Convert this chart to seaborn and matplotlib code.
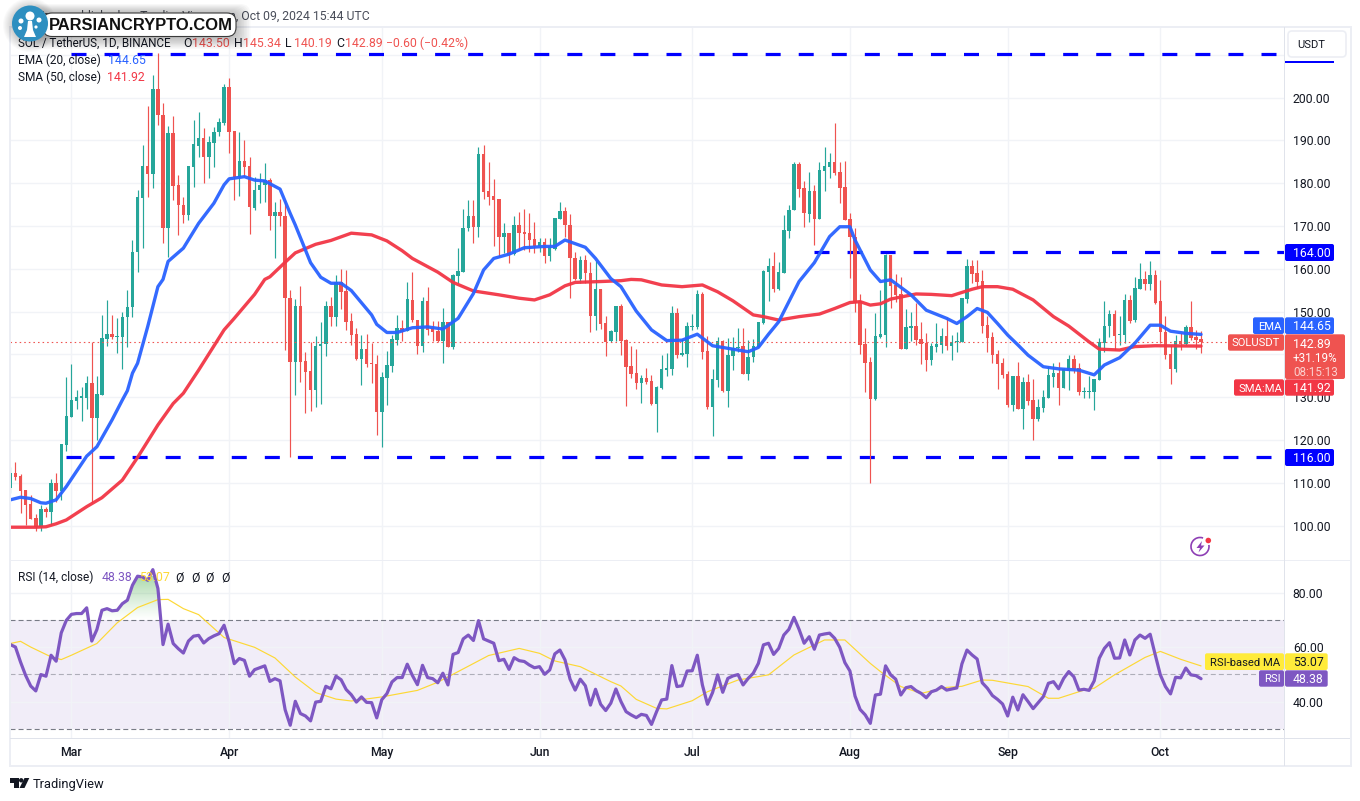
import numpy as np
import pandas as pd
import seaborn as sns
import matplotlib
matplotlib.use("Agg")
import matplotlib.pyplot as plt
import matplotlib.dates as mdates
from matplotlib.patches import FancyBboxPatch, Rectangle, Circle, Polygon, Arc

sns.set_theme(style="white")
plt.rcParams['font.family'] = ['Roboto', 'DejaVu Sans']
plt.rcParams['lines.scale_dashes'] = False
plt.rcParams['ytick.alignment'] = 'center_baseline'

first_day = "2024-02-18"

opens = [108.7,112.2,111.6,108.3,105.0,101.7,99.7,103.9,103.2,109.9,
108.1,118.9,125.4,129.2,129.9,129.9,133.2,125.2,130.5,143.6,
144.7,144.1,144.1,148.6,151.0,163.8,176.6,184.0,182.1,202.0,
195.9,169.6,191.6,179.5,175.0,172.5,183.8,188.7,190.5,186.2,
189.4,192.0,194.1,202.4,192.2,181.5,185.2,184.0,174.1,178.4,
179.5,180.7,172.2,173.3,172.2,153.1,138.3,151.3,138.4,136.0,
131.7,141.9,142.3,151.3,148.6,156.8,154.8,147.8,144.8,138.9,
141.2,138.0,137.7,126.5,134.5,137.3,143.3,146.1,145.5,152.7,
148.0,141.9,152.4,146.1,145.4,143.1,147.6,141.8,158.4,159.3,
169.4,172.3,169.8,186.8,178.2,177.0,176.3,167.5,168.3,163.4,
170.2,168.5,168.3,166.9,165.4,166.2,163.0,164.6,171.7,173.5,
170.2,162.4,157.5,162.0,158.9,149.0,155.3,147.2,143.0,145.3,
151.3,143.3,137.3,135.6,133.2,134.5,133.8,128.4,132.2,136.3,
136.6,149.6,139.8,140.1,146.3,146.3,154.1,140.8,127.8,134.0,
143.1,131.4,139.7,141.4,141.9,135.4,139.3,141.8,147.2,159.3,
160.6,155.3,159.1,168.9,173.6,184.5,178.9,172.8,178.2,171.6,
182.8,183.8,184.9,182.6,179.0,171.6,167.4,152.5,142.4,138.2,
129.6,144.1,144.5,163.2,156.2,154.0,141.2,146.1,146.6,143.5,
142.6,138.7,141.8,142.2,144.3,142.0,142.8,142.8,152.9,160.6,
159.0,157.1,146.8,144.0,140.0,137.9,135.4,128.1,134.9,127.2,
133.5,129.3,124.9,127.5,129.9,134.7,135.6,132.1,136.1,138.9,
136.9,131.2,131.2,131.2,134.0,142.7,146.5,149.4,144.5,144.4,
152.7,147.9,155.3,157.6,156.4,158.5,152.4,145.2,140.0,136.6,
143.1,142.4,146.4,144.0,143.50]
closes = [112.2,111.4,108.1,104.8,101.6,99.6,103.8,103.2,109.9,108.1,
119.0,125.6,129.3,130.0,130.0,133.2,125.2,130.7,143.7,144.7,
144.0,144.3,148.7,151.1,163.8,176.7,184.0,182.1,202.0,195.8,
169.6,191.6,179.4,175.0,172.5,184.0,189.1,190.5,186.2,189.5,
191.9,194.3,202.4,192.0,181.5,185.2,183.8,174.3,178.5,179.5,
180.7,172.3,173.3,172.2,153.1,138.3,151.3,138.3,135.9,131.7,
141.9,142.4,151.3,148.6,156.8,154.6,147.6,144.5,138.8,141.2,
137.7,137.7,126.5,134.8,137.5,143.6,146.1,145.2,152.9,147.9,
141.9,152.4,145.7,145.3,143.1,147.6,141.8,158.6,159.5,169.5,
172.3,169.8,186.8,178.0,176.8,176.0,167.5,168.3,163.2,170.2,
168.4,168.1,166.7,165.4,166.2,163.0,165.3,171.8,173.5,170.1,
162.4,157.5,162.0,158.9,149.0,155.3,147.1,142.8,145.5,151.3,
143.2,137.1,135.4,133.2,134.4,133.5,128.3,132.4,136.5,136.7,
149.6,139.8,140.2,146.6,146.6,154.1,140.6,127.6,134.2,143.0,
131.4,139.8,141.5,141.8,135.4,139.4,141.9,147.5,159.5,160.6,
155.3,159.2,169.0,173.7,184.5,178.6,172.9,178.2,171.6,183.1,
184.0,184.9,182.4,178.9,171.4,167.3,152.1,142.2,138.0,129.6,
144.3,144.7,163.2,156.0,153.8,141.2,146.3,146.6,143.3,142.5,
138.7,141.9,142.4,144.3,142.0,142.9,143.1,153.2,160.6,158.8,
156.9,146.6,143.9,139.8,137.7,135.2,128.1,134.9,127.2,133.5,
129.1,124.9,127.7,130.0,135.2,135.6,132.1,136.6,138.9,136.5,
131.2,131.4,131.4,134.2,142.8,146.6,149.4,144.3,144.7,152.7,
147.7,155.5,157.6,156.4,158.5,152.1,145.2,139.8,136.6,143.1,
142.4,146.4,143.7,143.3,142.89]
highs = [113.7,114.8,112.0,108.3,107.1,102.8,104.8,104.3,110.8,112.2,
119.0,134.6,137.7,131.7,132.3,134.9,142.8,134.9,149.2,152.7,
149.2,148.4,150.0,155.0,166.7,178.5,188.9,198.0,205.3,210.3,
198.6,193.3,195.7,181.9,176.8,184.0,194.7,196.6,192.8,191.0,
193.2,195.1,203.1,204.5,192.2,191.9,190.1,186.2,181.5,182.3,
184.6,181.1,175.7,176.2,176.0,155.0,152.9,155.9,140.5,142.8,
144.3,147.6,152.4,153.3,158.5,159.9,159.7,149.6,146.1,144.5,
144.8,142.6,139.8,135.9,140.8,144.5,149.2,148.0,156.8,159.2,
148.0,153.3,155.8,147.8,147.8,150.9,147.6,158.8,164.9,174.0,
176.0,176.0,188.4,188.9,184.9,180.9,176.3,170.7,168.4,172.3,
173.2,174.0,172.9,170.8,167.1,167.1,167.2,171.8,175.6,174.3,
172.8,164.0,163.0,163.2,161.6,161.9,155.3,149.0,145.7,151.3,
151.7,143.5,141.9,141.3,135.2,136.9,135.2,132.6,139.8,140.2,
151.4,150.9,143.5,147.6,149.4,155.0,154.6,144.3,136.6,144.1,
143.3,143.7,144.1,146.1,146.1,143.3,143.6,147.5,159.7,162.4,
163.8,161.5,172.6,175.0,185.0,185.0,180.5,182.6,179.6,184.9,
188.4,187.0,194.0,184.9,185.2,172.9,169.4,154.0,146.1,139.3,
149.6,155.0,163.4,163.2,158.8,158.1,150.7,150.0,152.1,147.5,
144.9,142.6,147.2,146.1,148.6,144.5,145.3,153.2,162.3,162.0,
162.0,159.7,148.9,145.3,141.0,139.1,136.2,135.0,138.2,134.8,
135.5,134.2,129.5,131.7,137.3,137.9,138.2,136.7,139.8,139.8,
137.9,132.3,134.9,134.2,143.9,152.5,150.3,150.3,148.9,154.1,
153.9,158.0,161.3,159.5,161.8,159.7,157.4,148.9,142.2,144.5,
144.9,146.8,152.4,145.7,145.34]
lows = [107.5,110.6,103.0,100.1,101.6,98.6,98.6,102.1,100.1,105.4,
106.0,117.3,125.4,127.2,124.3,127.2,105.2,120.0,130.5,142.0,
143.6,140.4,136.6,141.6,148.8,159.3,164.8,176.8,178.8,193.6,
166.1,162.7,176.0,167.8,170.6,171.4,179.2,186.2,180.1,181.1,
183.8,190.9,193.6,187.0,176.0,177.0,181.5,168.0,173.6,175.3,
175.7,169.0,162.4,170.0,141.0,116.1,130.5,133.6,126.4,126.8,
127.8,128.4,139.6,146.7,146.7,150.7,145.7,142.2,138.7,132.8,
137.1,133.4,121.2,118.4,128.2,135.9,142.2,143.1,145.4,147.6,
140.1,140.6,144.5,143.1,142.8,137.9,141.8,141.2,156.6,159.3,
168.7,166.1,167.5,176.4,174.9,165.4,162.8,163.6,161.3,163.2,
164.4,164.4,163.8,163.6,164.0,161.4,161.9,164.4,171.5,167.5,
153.1,157.4,156.6,156.6,145.3,145.7,145.9,139.7,142.8,143.0,
139.8,128.0,134.5,132.0,128.7,133.0,128.2,121.9,132.0,134.9,
135.2,139.1,139.6,137.1,145.7,145.8,138.9,127.3,121.0,132.4,
131.3,127.8,136.3,140.6,135.4,134.0,138.1,141.6,147.1,152.5,
154.6,155.0,159.1,167.2,173.6,176.8,169.8,170.9,165.5,171.6,
178.2,181.1,181.9,175.4,171.4,157.9,150.0,140.1,131.1,110.0,
129.3,143.9,141.6,150.9,152.3,141.2,141.2,143.0,142.2,137.7,
136.2,137.5,140.6,140.4,141.0,138.7,140.6,142.8,152.1,156.6,
155.4,144.9,140.6,138.0,132.0,134.4,127.8,126.8,127.2,122.5,
128.2,120.0,124.3,126.6,129.7,132.3,128.2,132.1,131.7,135.7,
130.5,129.9,129.9,127.0,134.0,140.6,144.1,141.0,142.2,142.7,
147.2,147.6,155.2,155.0,155.0,151.8,142.6,138.8,133.1,135.9,
141.0,142.2,143.3,141.2,140.19]

# EMA / SMA / RSI-MA read at days counted from 1 March
ema_days = [-12,-10,-8,-6,-5,-3,-1,3,5,8,10,11,12,13,15,17,18,19,22,25,28,30,31,34,36,38,41,43,44,47,49,51,53,55,59,60,62,64,67,70,73,76,79,81,83,86,89,93,95,97,101,103,106,108,111,114,117,120,123,126,133,135,137,139,143,146,149,151,153,154,157,159,161,165,168,172,174,176,178,180,182,184,186,188,191,194,198,201,203,206,209,212,214,216,219,222]
ema_vals = [106.0,106.6,106.3,105.3,105.2,106.0,109.1,116.2,118.4,124.7,129.3,131.5,135.6,137.9,146.5,155.8,157.5,161.7,164.8,170.6,175.3,179.6,181.0,181.5,180.7,180.5,178.6,172.9,170.2,161.4,158.0,156.6,156.6,154.9,149.2,147.0,145.1,145.1,146.2,146.4,145.9,148.4,154.2,159.7,162.4,163.4,164.9,165.2,165.2,166.7,165.0,162.4,157.7,155.8,150.1,145.7,143.2,143.3,144.7,142.0,140.6,141.6,144.7,147.6,157.0,161.4,167.5,169.8,169.8,166.7,159.7,157.0,157.4,153.9,150.3,148.4,147.2,148.8,150.7,149.8,147.2,144.5,142.2,139.8,137.1,136.6,136.3,135.2,137.5,139.2,142.6,146.8,146.8,145.4,144.9,144.65]
sma_days = [-12,-7,-5,-3,-1,3,6,10,13,17,20,22,25,30,32,36,38,39,42,44,48,51,55,59,62,65,67,72,75,79,84,88,91,94,97,99,104,108,110,112,116,120,124,127,130,134,136,139,143,147,150,153,155,157,159,161,166,169,173,177,179,182,185,189,193,196,200,202,206,209,213,222]
sma_vals = [99.6,99.6,99.7,100.4,101.3,104.4,106.5,110.6,115.9,123.5,128.5,130.9,136.3,145.7,148.4,154.0,157.5,158.1,161.5,163.7,165.7,166.6,168.3,167.9,166.5,164.2,162.4,159.2,156.8,154.8,153.9,153.1,152.7,153.9,156.0,156.8,157.0,157.2,157.5,157.4,156.2,155.8,156.2,154.6,152.5,149.2,148.8,148.0,148.8,149.4,150.7,152.1,152.3,151.5,151.8,152.9,154.1,154.0,153.7,155.2,155.8,155.8,155.2,152.7,148.8,146.6,142.9,141.2,141.0,141.8,142.0,141.92]
rsi_vals = [60.9,60.0,54.5,49.6,45.7,43.9,49.9,49.3,57.0,54.8,
65.2,69.8,72.0,72.3,72.3,74.4,62.2,66.4,73.5,74.1,
73.3,73.5,75.9,77.2,82.7,86.0,85.7,84.5,88.4,81.5,
60.9,68.4,61.3,59.4,57.8,62.2,64.0,64.3,61.5,63.1,
64.1,64.9,68.0,61.9,53.9,55.8,55.1,49.3,51.7,52.4,
53.1,47.4,48.4,47.6,37.0,31.3,40.1,35.6,34.7,32.9,
39.8,40.1,45.6,44.7,49.3,48.0,44.4,42.5,39.8,41.7,
39.7,39.6,34.0,40.7,42.9,47.2,48.8,48.8,53.7,49.6,
46.2,53.3,48.8,48.4,46.9,50.4,46.1,57.3,58.0,63.0,
64.4,62.4,69.7,63.0,62.2,61.4,55.0,55.5,51.8,56.1,
55.0,54.7,53.4,52.4,52.8,50.0,51.6,57.5,58.9,55.3,
48.2,44.2,48.2,45.8,38.7,44.5,39.0,36.7,39.4,44.6,
40.0,36.3,35.1,34.1,35.3,34.9,31.6,36.3,40.6,40.9,
53.2,45.5,45.8,51.2,51.3,57.0,46.1,39.0,43.3,49.8,
43.4,48.5,49.4,49.9,46.1,48.5,50.4,54.0,60.8,61.4,
57.3,59.5,64.4,66.5,70.9,66.5,61.4,63.8,59.2,64.4,
64.8,65.1,63.2,59.9,54.3,51.2,42.0,37.1,35.1,32.0,
42.4,42.7,53.1,49.8,48.2,42.4,45.1,45.5,44.0,43.0,
41.4,43.6,44.2,45.5,44.2,44.6,45.0,53.8,58.9,57.1,
55.6,46.9,44.9,42.2,40.8,39.1,34.7,41.6,36.9,42.5,
40.0,37.4,39.6,41.8,46.7,47.3,44.7,48.5,51.0,49.1,
44.2,44.5,44.1,47.6,55.9,59.5,61.6,55.9,56.0,62.6,
57.1,62.6,64.4,63.2,64.7,57.1,49.8,45.5,42.8,48.9,
48.7,52.3,49.8,49.5,48.38]
rsima_days = [-12,-10,-8,-4,-2,0,5,9,13,17,19,22,25,30,36,40,44,48,52,55,61,68,72,76,82,88,92,95,100,106,108,111,115,117,122,125,131,137,142,148,152,157,159,163,167,172,175,179,181,188,192,194,199,201,205,211,214,218,222]
rsima_vals = [61.3,62.1,60.0,56.4,55.4,57.0,61.3,68.9,74.5,77.4,77.5,74.1,71.9,63.5,59.9,56.0,49.0,43.3,40.9,40.2,41.7,44.1,47.1,51.0,56.9,59.5,57.7,54.9,52.8,47.3,45.7,40.8,37.5,37.3,40.3,43.6,47.9,49.8,57.1,62.6,62.6,54.0,51.0,45.5,43.0,45.2,45.6,47.9,47.8,45.5,41.2,41.2,44.2,44.9,49.8,56.2,58.4,55.5,53.07]

level_values = [210.1, 163.9, 116.0]
level_start_days = [0, 146, -1]
price_ticks = list(range(100, 220, 10))
rsi_ticks = [40, 60, 80]
month_labels = ["Mar", "Apr", "May", "Jun", "Jul", "Aug", "Sep", "Oct"]
month_dates = ["2024-03-01", "2024-04-01", "2024-05-01", "2024-06-01",
               "2024-07-01", "2024-08-01", "2024-09-01", "2024-10-01"]
last_close = closes[-1]

W, H = 1360, 801
DOT = 100
fig = plt.figure(figsize=(W / DOT, H / DOT), dpi=DOT, facecolor="white")

def pane(x0, y0, x1, y1):
    return fig.add_axes([x0 / W, 1 - y1 / H, (x1 - x0) / W, (y1 - y0) / H])

ax = pane(10, 27, 1284.5, 560)
rx = pane(10, 561, 1284.5, 738.3)

base = mdates.date2num(pd.Timestamp("2024-03-01"))
x = mdates.date2num(pd.date_range(first_day, periods=len(closes)))
month_x = mdates.date2num(pd.to_datetime(month_dates))
xlim = (base - 12.07, base + 238.4)

GRID = "#f1f3f7"
GREEN, RED = "#26a69a", "#ef5350"
FS = 8.8      # numbers
FL = 8.6      # legend text
FT = 8.1      # capital tag labels

for a in (ax, rx):
    a.set_facecolor("white")
    for s in a.spines.values():
        s.set_visible(False)
    a.set_axisbelow(True)
    a.grid(True, color=GRID, lw=1.0)

# price pane
o, c, h, l = map(np.array, (opens, closes, highs, lows))
cols = np.where(c >= o, GREEN, RED)
for val, d0 in zip(level_values, level_start_days):
    ax.plot([base + d0, xlim[1]], [val, val], color="#0000ff", lw=2.3,
            ls=(0, (10.8, 13.0)), dash_capstyle="butt", zorder=1.5)
ax.vlines(x, l, h, colors=cols, lw=0.85, zorder=2)
bot = np.minimum(o, c)
ax.bar(x, np.maximum(np.abs(c - o), 0.25), bottom=bot, width=0.68, color=cols, lw=0, zorder=2.1)
ax.axhline(last_close, color=RED, lw=0.8, ls=(0, (1.1, 2.2)), zorder=2.2)

ema_df = pd.DataFrame({"x": base + np.array(ema_days), "y": ema_vals})
sma_df = pd.DataFrame({"x": base + np.array(sma_days), "y": sma_vals})
sns.lineplot(data=sma_df, x="x", y="y", ax=ax, color="#f23645", lw=2.4, alpha=0.95,
             estimator=None, sort=False, zorder=3)
sns.lineplot(data=ema_df, x="x", y="y", ax=ax, color="#2962ff", lw=2.4, alpha=0.95,
             estimator=None, sort=False, zorder=3.1)
ax.set_xlim(xlim)
ax.set_ylim(100 + (525.5 - 560) / 4.28, 100 + (525.5 - 27) / 4.28)
ax.set_xticks(month_x)
ax.set_xticklabels([])
ax.set_xlabel("")
ax.set_ylabel("")
ax.yaxis.tick_right()
ax.set_yticks(price_ticks)
ax.set_yticklabels([f"{v:.2f}" if v <= 200 else "" for v in price_ticks],
                   fontsize=FS, color="#131722")
ax.tick_params(axis="both", length=0)
ax.tick_params(axis="y", pad=6.0)

# RSI pane
rx.axhspan(30, 70, color="#7e57c2", alpha=0.1, lw=0, zorder=0.5)
for lev, al in ((70, 1), (30, 1), (50, 0.55)):
    rx.axhline(lev, color="#787b86", lw=0.8, alpha=al, ls=(0, (3.6, 2.2)), zorder=1)
rsi = np.array(rsi_vals)
over = rx.fill_between(x, 70, rsi, where=rsi > 70, interpolate=True, visible=False)
grad = np.zeros((64, 2, 4))
grad[..., :3] = matplotlib.colors.to_rgb("#4caf50")
grad[..., 3] = np.linspace(0.5, 0.0, 64)[:, None] ** 1.1
im = rx.imshow(grad, extent=(xlim[0], xlim[1], 70, 86), aspect="auto", zorder=1.5, origin="upper")
clip = matplotlib.patches.PathPatch(matplotlib.path.Path.make_compound_path(*over.get_paths()),
                                    transform=rx.transData)
im.set_clip_path(clip)
rsi_df = pd.DataFrame({"x": x, "y": rsi})
ma_df = pd.DataFrame({"x": base + np.array(rsima_days), "y": rsima_vals})
sns.lineplot(data=ma_df, x="x", y="y", ax=rx, color="#fdd835", lw=0.85,
             estimator=None, sort=False, zorder=2)
sns.lineplot(data=rsi_df, x="x", y="y", ax=rx, color="#7e57c2", lw=2.3,
             estimator=None, sort=False, zorder=3)
rx.set_xlim(xlim)
rx.set_ylim(50 + (674.3 - 738.3) / 2.725, 50 + (674.3 - 561) / 2.725)
rx.set_xlabel("")
rx.set_ylabel("")
rx.set_xticks(month_x)
rx.set_xticklabels(month_labels, fontsize=FS, color="#131722", fontweight="medium")
rx.yaxis.tick_right()
rx.set_yticks(rsi_ticks)
rx.set_yticklabels([f"{v:.2f}" for v in rsi_ticks], fontsize=FS, color="#131722")
rx.tick_params(axis="both", length=0)
rx.tick_params(axis="y", pad=6.0)
rx.tick_params(axis="x", pad=5.8)

# overlay in pixel coordinates
ov = fig.add_axes([0, 0, 1, 1], zorder=10)
ov.set_xlim(0, W)
ov.set_ylim(H, 0)
ov.axis("off")
ov.patch.set_alpha(0)

FRAME = "#eceef4"
SEP = "#e0e3eb"
def rect(x0, y0, x1, y1, color, z=2, **k):
    ov.add_patch(Rectangle((x0, y0), x1 - x0, y1 - y0, facecolor=color, lw=0, zorder=z, **k))
def box(x0, y0, x1, y1, color, z=5, r=2):
    ov.add_patch(FancyBboxPatch((x0 + r, y0 + r), x1 - x0 - 2 * r, y1 - y0 - 2 * r,
                                boxstyle=f"round,pad={r},rounding_size={r}",
                                facecolor=color, lw=0, zorder=z))
def txt(px, py, s, color="#131722", size=FS, ha="left", z=6, **k):
    ov.text(px, py, s, color=color, fontsize=size, ha=ha, va="center_baseline", zorder=z, **k)

# frame
rect(9, 26, 1351, 28, FRAME)
rect(9, 26, 11, 767, FRAME)
rect(1349.5, 26, 1351.5, 767, FRAME)
rect(9, 765, 1351, 767, FRAME)
rect(10, 559.8, 1350, 561.2, FRAME)
rect(10, 737.6, 1350, 739, SEP)
rect(1283.8, 27, 1285, 766, SEP)

# header text
txt(370, 15, "rejzon published on TradingView.com, Oct 09, 2024 15:44 UTC", color="#4a4e5a", ha="right")
txt(18, 42, "SOL / TetherUS, 1D, BINANCE", color="#131722", size=8.35)
for px, lab, val in ((183, "O", "143.50"), (234, "H", "145.34"), (285, "L", "140.19"), (336, "C", "142.89")):
    txt(px, 42, lab, color="#131722")
    txt(px + 9, 42, val, color=RED)
txt(386, 42, "−0.60 (−0.42%)", color=RED)
txt(18, 59, "EMA (20, close)", size=FL)
txt(108, 59, "144.65", color="#2962ff")
txt(18, 76, "SMA (50, close)", size=FL)
txt(107, 76, "141.92", color="#f23645")
txt(18, 576, "RSI (14, close)", size=FL)
txt(102, 576, "48.38", color="#7e57c2")
txt(139, 576, "53.07", color="#fdd835")
for px in (179, 195, 210, 225):
    txt(px, 576, "Ø", ha="center")

# watermark logo
for k in range(10):
    ov.add_patch(FancyBboxPatch((43 - k * 1.6, 13 - k * 1.0), 193 + k * 3.2, 25 + k * 2.2,
                                boxstyle="round,pad=0,rounding_size=10", facecolor="black",
                                alpha=0.028, lw=0, zorder=7))
    ov.add_patch(Circle((30, 25), 18 + k * 1.0, facecolor="black", alpha=0.02, lw=0, zorder=7))
ov.add_patch(FancyBboxPatch((43, 13), 193, 23.5, boxstyle="round,pad=0,rounding_size=9",
                            facecolor="white", edgecolor="#3a3a3a", lw=0.8, zorder=8))
ov.add_patch(Circle((30, 23.5), 18, facecolor="#2e8fc0", lw=0, zorder=9))
for cx, cy, r in ((30, 16, 4.5), (21, 21, 2.5), (39, 20, 2.5), (20, 28, 2), (36, 27, 1.6)):
    ov.add_patch(Circle((cx, cy), r, facecolor="white", lw=0, zorder=9.5))
ov.add_patch(Polygon([(24, 37), (36, 37), (33, 30), (32, 21), (28, 21), (27, 30)],
                     facecolor="white", lw=0, zorder=9.5))
ov.text(49, 25, "PARSIANCRYPTO.COM", family="Liberation Sans", fontsize=11.9, fontweight="bold",
        color="#111111", ha="left", va="center", zorder=9)

# USDT button
ov.add_patch(FancyBboxPatch((1290, 33), 54, 22, boxstyle="round,pad=2,rounding_size=4",
                            facecolor="white", edgecolor="#eceef4", lw=1.2, zorder=5))
txt(1297, 44.5, "USDT", size=FT)
rect(1285, 60.8, 1334, 62.6, "#0000ff", z=5)

# price tags
WHITE = "white"
def value_tag(y0, y1, color, s, tc=WHITE, x1=1334):
    box(1285, y0, x1, y1, color)
    txt(1293, (y0 + y1) / 2 - 0.3, s, color=tc)

value_tag(244, 261, "#0000ff", "164.00")
value_tag(449, 466, "#0000ff", "116.00")
box(1253, 317.3, 1284, 334, "#2962ff"); txt(1258, 325.5, "EMA", color=WHITE, size=FT)
value_tag(317.3, 334, "#2962ff", "144.65")
box(1228, 334.3, 1284, 350.7, RED); txt(1232, 342.5, "SOLUSDT", color=WHITE, size=FT)
box(1285, 334.3, 1345, 379, RED)
txt(1293, 343, "142.89", color=WHITE)
txt(1293, 356.7, "+31.19%", color=WHITE, size=8.4)
txt(1293, 371, "08:15:13", color="#fbd0cf", size=8.4)
box(1234, 379.3, 1284, 395.7, "#f23645"); txt(1238.5, 387.5, "SMA:MA", color=WHITE, size=FT)
value_tag(379.3, 395.7, "#f23645", "141.92")
box(1205, 653.3, 1284, 670, "#ffeb3b"); txt(1209.5, 661.5, "RSI-based MA", size=FT)
value_tag(653.3, 670, "#ffeb3b", "53.07", tc="#131722", x1=1327.7)
box(1259, 670.3, 1284, 686.7, "#7e57c2"); txt(1264, 678.5, "RSI", color=WHITE, size=FT)
value_tag(670.3, 686.7, "#7e57c2", "48.38", x1=1327.7)

# bolt icon
ov.add_patch(Arc((1200, 546.5), 18, 18, theta1=350, theta2=650, edgecolor="#8e3fb5", lw=1.2, zorder=5))
ov.add_patch(Polygon([(1202, 541), (1196.5, 548), (1200, 548), (1198.5, 552.5),
                      (1204.5, 545.5), (1201, 545.5)], facecolor="#8e3fb5", lw=0, zorder=5.5))
ov.add_patch(Circle((1208.3, 540.5), 2.8, facecolor="#f23645", lw=0, zorder=5.6))

# TradingView mark
ov.add_patch(Polygon([(10, 778), (18.5, 778), (18.5, 788), (14, 788), (14, 782.5), (10, 782.5)],
                     facecolor="#131722", lw=0))
ov.add_patch(Circle((21.2, 780.3), 2.2, facecolor="#131722", lw=0))
ov.add_patch(Polygon([(24.5, 778), (29.3, 778), (24.5, 788), (19.5, 788)], facecolor="#131722", lw=0))
txt(33, 783, "TradingView", size=9.3, color="#131722")

fig.savefig("out.png", dpi=DOT, facecolor="white")
